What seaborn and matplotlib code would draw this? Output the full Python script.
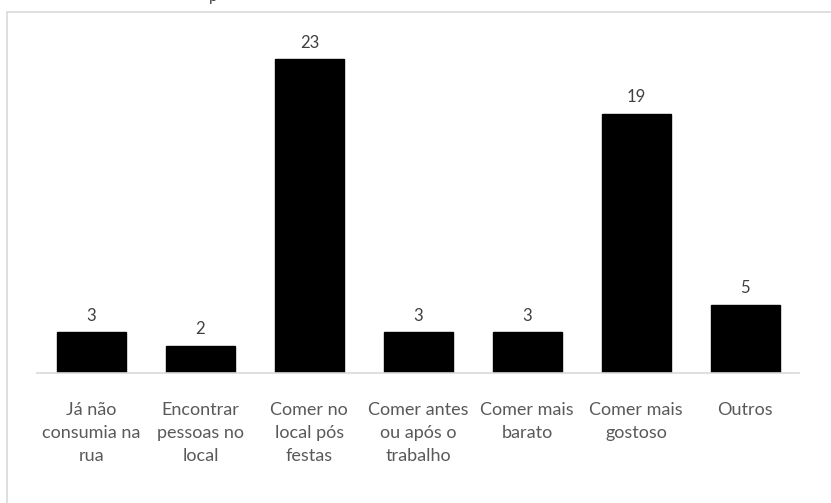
import matplotlib
matplotlib.use("Agg")
import matplotlib.pyplot as plt
import seaborn as sns
import pandas as pd
from matplotlib.patches import Rectangle

categories = ["Já não\nconsumia na\nrua", "Encontrar\npessoas no\nlocal", "Comer no\nlocal pós\nfestas",
              "Comer antes\nou após o\ntrabalho", "Comer mais\nbarato", "Comer mais\ngostoso", "Outros"]
values = [3, 2, 23, 3, 3, 19, 5]

sns.set_theme(style="white")
plt.rcParams['font.family'] = ['Lato', 'DejaVu Sans']

W, H = 831, 503
fig = plt.figure(figsize=(W / 100, H / 100), dpi=100)
ax = fig.add_axes([37 / W, 1 - 373 / H, (799.5 - 37) / W, (373 - 12) / H])

df = pd.DataFrame({"cat": categories, "val": values})
sns.barplot(data=df, x="cat", y="val", ax=ax, color="black", width=0.633,
            edgecolor="black", saturation=1)

ax.set_ylim(0, 26.45)
ax.set_xlim(-0.5, len(categories) - 0.5)
for s in ["top", "right", "left"]:
    ax.spines[s].set_visible(False)
ax.spines["bottom"].set_color("#d9d9d9")
ax.spines["bottom"].set_linewidth(1.2)
ax.set_yticks([])
ax.set_xlabel("")
ax.set_ylabel("")
ax.tick_params(axis="x", length=0, pad=21, colors="#595959", labelsize=13)
for lbl in ax.get_xticklabels():
    lbl.set_linespacing(1.55)
    lbl.set_va("top")

for container in ax.containers:
    ax.bar_label(container, padding=6, color="#404040", fontsize=12)

# chart frame
fig.patches.append(Rectangle((7 / W, -0.1), 1.2, 1 - 12 / H + 0.1, transform=fig.transFigure,
                             fill=False, edgecolor="#d9d9d9", linewidth=1.2))
# partially visible title descender
fig.text(213 / W, 1 - 0.5 / H, "p", ha="center", va="baseline", fontsize=11, color="#404040")

fig.savefig("out.png", dpi=100, facecolor="white")
